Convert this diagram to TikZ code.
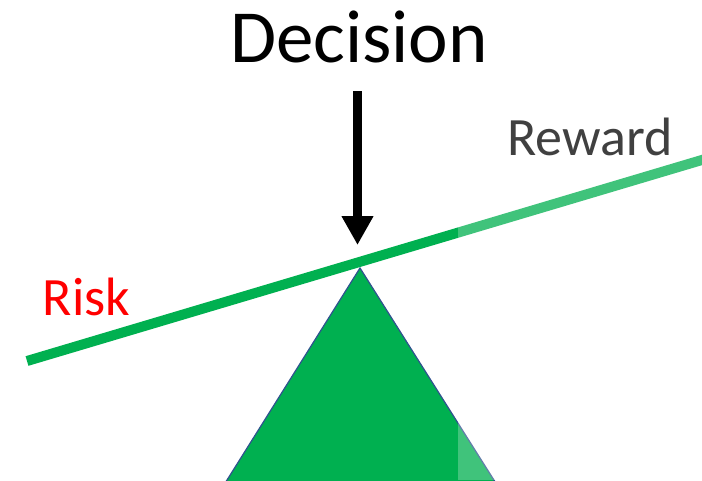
\documentclass[tikz,border=0pt]{standalone}
\usepackage{fontspec}
\setmainfont{Carlito}
\usetikzlibrary{arrows.meta}
\definecolor{offgreen}{HTML}{00B050}
\definecolor{outline}{HTML}{2F528F}
\tikzset{
  lbl/.style={anchor=base, inner sep=0pt},
  beam/.style={draw=offgreen, line width=10pt},
  fulcrum/.style={fill=offgreen, draw=outline, line width=1.2pt, line join=miter},
  pointer/.style={draw=black, line width=9pt, -{Triangle[width=30pt,length=29pt]}}
}
\begin{document}
\begin{tikzpicture}[x=1pt,y=-1pt]
\useasboundingbox (0,0) rectangle (702,480);
\clip (0,0) rectangle (702,480);
\fill[white] (0,0) rectangle (702,480);
% fulcrum
\draw[fulcrum] (360,268) -- (217.6,495) -- (503.4,495) -- cycle;
% beam
\coordinate (lend) at (27,361);
\coordinate (rend) at (722,154);
\draw[beam] (lend) -- (rend);
% decision arrow
\coordinate (dtop) at (357.5,91);
\coordinate (dtip) at (357.5,245);
\draw[pointer] (dtop) -- (dtip);
% labels
\node[lbl, font=\fontsize{75}{80}\selectfont] (dec) at (359,62) {Decision};
\node[lbl, font=\fontsize{54}{60}\selectfont] (rew) at (590,155) {Reward};
\node[lbl, font=\fontsize{54}{60}\selectfont, text=red] (risk) at (86.5,315) {Risk};
% light overlay on right
\fill[white, opacity=0.25] (458,90) rectangle (702,480);
\end{tikzpicture}
\end{document}
